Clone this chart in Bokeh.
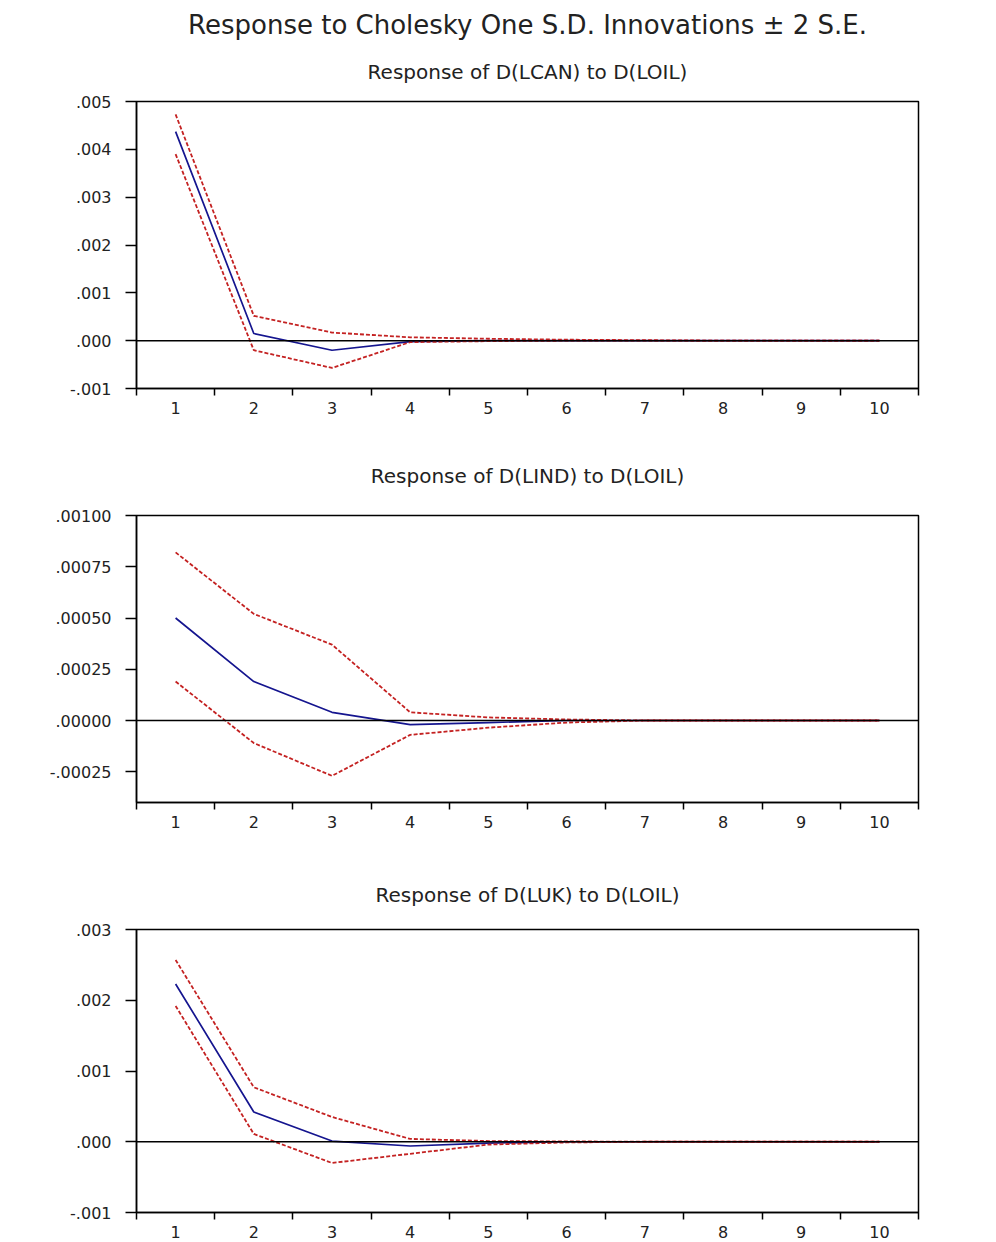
from bokeh.plotting import figure
from bokeh.models import Range1d, FixedTicker, Span, Title
from bokeh.layouts import column
from bokeh.embed import file_html
from bokeh.resources import INLINE

# ---------------- data ----------------
periods = [1, 2, 3, 4, 5, 6, 7, 8, 9, 10]
period_labels = ["1", "2", "3", "4", "5", "6", "7", "8", "9", "10"]
period_bounds = [0.5, 1.5, 2.5, 3.5, 4.5, 5.5, 6.5, 7.5, 8.5, 9.5, 10.5]

main_title = "Response to Cholesky One S.D. Innovations \u00b1 2 S.E."

can_title = "Response of D(LCAN) to D(LOIL)"
can_resp = [0.00437, 0.00015, -0.00020, -0.00002, 0.0, 0.0, 0.0, 0.0, 0.0, 0.0]
can_upper = [0.00473, 0.00052, 0.00017, 0.00007, 0.00004, 0.00002, 0.00001, 0.0, 0.0, 0.0]
can_lower = [0.00390, -0.00020, -0.00057, -0.00003, -0.00001, 0.0, 0.0, 0.0, 0.0, 0.0]
can_yticks = [-0.001, 0.0, 0.001, 0.002, 0.003, 0.004, 0.005]
can_ylabels = ["-.001", ".000", ".001", ".002", ".003", ".004", ".005"]
can_yrange = [-0.001, 0.005]

ind_title = "Response of D(LIND) to D(LOIL)"
ind_resp = [0.00050, 0.00019, 0.00004, -0.00002, -0.00001, 0.0, 0.0, 0.0, 0.0, 0.0]
ind_upper = [0.00082, 0.00052, 0.00037, 0.00004, 0.000015, 0.000005, 0.0, 0.0, 0.0, 0.0]
ind_lower = [0.00019, -0.00011, -0.00027, -0.00007, -0.000035, -0.00001, 0.0, 0.0, 0.0, 0.0]
ind_yticks = [-0.00025, 0.0, 0.00025, 0.0005, 0.00075, 0.001]
ind_ylabels = ["-.00025", ".00000", ".00025", ".00050", ".00075", ".00100"]
ind_yrange = [-0.0004, 0.001]

uk_title = "Response of D(LUK) to D(LOIL)"
uk_resp = [0.00223, 0.00042, 0.00001, -0.00006, -0.00002, 0.0, 0.0, 0.0, 0.0, 0.0]
uk_upper = [0.00257, 0.00077, 0.00035, 0.00004, 0.00001, 0.000005, 0.0, 0.0, 0.0, 0.0]
uk_lower = [0.00192, 0.00011, -0.00030, -0.00017, -0.00004, -0.00001, 0.0, 0.0, 0.0, 0.0]
uk_yticks = [-0.001, 0.0, 0.001, 0.002, 0.003]
uk_ylabels = ["-.001", ".000", ".001", ".002", ".003"]
uk_yrange = [-0.001, 0.003]

# ---------------- style ----------------
FONT = "DejaVu Sans"
BLUE = "#15158f"
RED = "#c42222"
TXT = "#222222"


def style_title(t, size, standoff):
    t.align = "center"
    t.text_font = FONT
    t.text_font_size = size
    t.text_font_style = "normal"
    t.text_color = TXT
    t.standoff = standoff


def make_panel(title, resp, upper, lower, yticks, ylabels, yrange,
               height, top, bottom, sub_standoff, main=None, main_standoff=0):
    p = figure(width=968, height=height, output_backend="svg",
               toolbar_location=None, x_range=Range1d(0.5, 10.5),
               y_range=Range1d(yrange[0], yrange[1]),
               min_border_left=136, min_border_right=50,
               min_border_top=top, min_border_bottom=bottom)
    p.background_fill_color = "white"
    p.border_fill_color = "white"
    p.outline_line_color = "black"
    p.outline_line_width = 1.5
    p.xgrid.visible = False
    p.ygrid.visible = False

    if main is None:
        p.title.text = title
        style_title(p.title, "20px", sub_standoff)
    else:
        p.title.text = main
        style_title(p.title, "26px", main_standoff)
        sub = Title(text=title)
        style_title(sub, "20px", sub_standoff)
        p.add_layout(sub, "above")

    # x axis: labels at periods, ticks at period boundaries
    p.xaxis.ticker = FixedTicker(ticks=periods, minor_ticks=period_bounds)
    p.xaxis.major_label_overrides = {v: s for v, s in zip(periods, period_labels)}
    p.xaxis.major_tick_line_color = None
    p.xaxis.major_tick_out = 0
    p.xaxis.major_tick_in = 0
    p.xaxis.minor_tick_out = 7
    p.xaxis.minor_tick_in = 0
    p.xaxis.minor_tick_line_color = "black"
    p.xaxis.minor_tick_line_width = 1.5
    p.xaxis.axis_line_color = "black"
    p.xaxis.axis_line_width = 1.5
    p.xaxis.major_label_standoff = 6
    p.xaxis.major_label_text_font = FONT
    p.xaxis.major_label_text_font_size = "16px"
    p.xaxis.major_label_text_color = TXT

    # y axis
    p.yaxis.ticker = FixedTicker(ticks=yticks, minor_ticks=[])
    p.yaxis.major_label_overrides = {v: s for v, s in zip(yticks, ylabels)}
    p.yaxis.major_tick_out = 11
    p.yaxis.major_tick_in = 0
    p.yaxis.major_tick_line_color = "black"
    p.yaxis.major_tick_line_width = 1.5
    p.yaxis.minor_tick_line_color = None
    p.yaxis.axis_line_color = "black"
    p.yaxis.axis_line_width = 1.5
    p.yaxis.major_label_standoff = 14
    p.yaxis.major_label_text_font = FONT
    p.yaxis.major_label_text_font_size = "16px"
    p.yaxis.major_label_text_color = TXT

    p.add_layout(Span(location=0, dimension="width", line_color="black",
                      line_width=1.5))
    p.line(periods, resp, line_color=BLUE, line_width=1.7)
    p.line(periods, upper, line_color=RED, line_width=1.8, line_dash="4 2")
    p.line(periods, lower, line_color=RED, line_width=1.8, line_dash="4 2")
    return p


p1 = make_panel(can_title, can_resp, can_upper, can_lower, can_yticks,
                can_ylabels, can_yrange, height=426, top=101, bottom=38,
                sub_standoff=35, main=main_title, main_standoff=1)
p2 = make_panel(ind_title, ind_resp, ind_upper, ind_lower, ind_yticks,
                ind_ylabels, ind_yrange, height=414, top=89, bottom=38,
                sub_standoff=55)
p3 = make_panel(uk_title, uk_resp, uk_upper, uk_lower, uk_yticks,
                uk_ylabels, uk_yrange, height=400, top=89, bottom=27,
                sub_standoff=45)

layout = column(p1, p2, p3, spacing=0)
open("out.html", "w").write(file_html(layout, INLINE))
